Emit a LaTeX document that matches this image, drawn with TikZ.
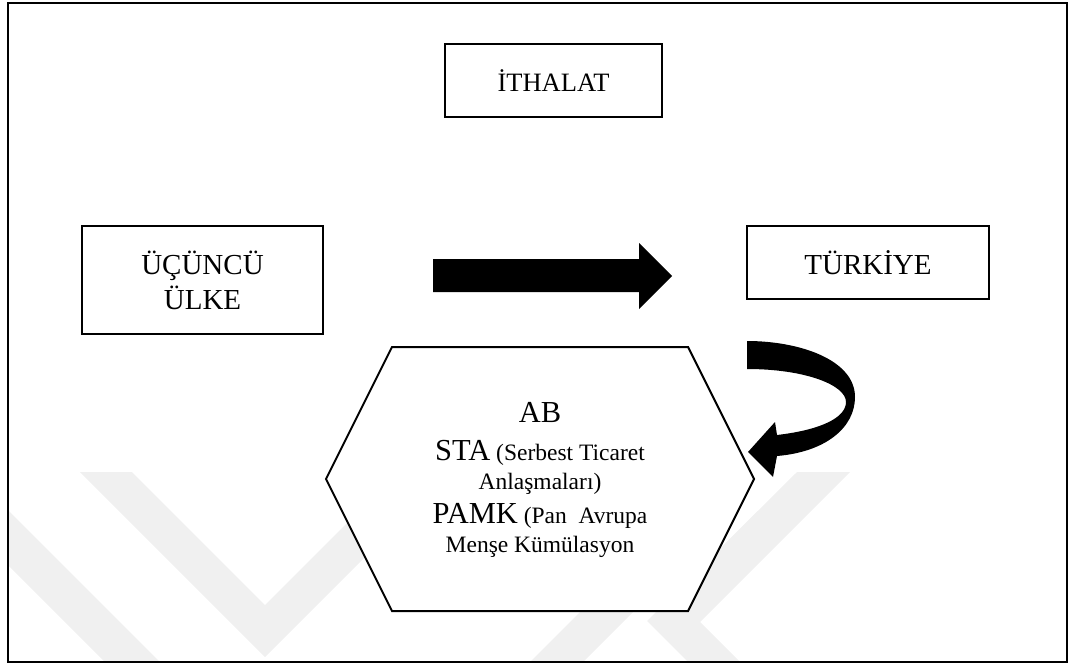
\documentclass[tikz,border=0pt]{standalone}
\usepackage{fontspec}
\setmainfont{Liberation Serif}
\usetikzlibrary{positioning}

\begin{document}
\begin{tikzpicture}[x=1pt,y=-1pt,
    box/.style={draw,line width=2.4pt,inner sep=0pt,align=center},
    boxfont/.style={font=\fontsize{29}{35}\selectfont},
    mark gray/.style={fill=black!6,draw=none}]
\useasboundingbox (0,0) rectangle (1071,666);

% faint watermark stripes
\fill[mark gray] (80,472) -- (132,472) -- (265,605) -- (370,500) -- (422,500) -- (265,657) -- cycle;
\fill[mark gray] (8,510) -- (8,565) -- (105,662) -- (160,662) -- cycle;
\fill[mark gray] (797,472) -- (850,472) -- (700,622) -- (740,662) -- (688,662) -- (647,621) -- cycle;
\fill[mark gray] (530,662) -- (583,662) -- (660,585) -- (607,585) -- cycle;

% frame
\draw[line width=2pt] (8,3) rectangle (1067,662);

% boxes
\node[box,minimum width=217,minimum height=73,font=\fontsize{26.5}{30}\selectfont] (ithalat) at (553.5,80.5) {İTHALAT};
\node[box,boxfont,minimum width=241,minimum height=108] (ucuncu) at (202.5,280) {ÜÇÜNCÜ\\ÜLKE};
\node[box,boxfont,minimum width=242,minimum height=73] (turkiye) at (868,262.5) {TÜRKİYE};

% straight block arrow
\fill (433,259) -- (639,259) -- (639,243) -- (672,276) -- (639,309) -- (639,292) -- (433,292) -- cycle;

% hexagon with the agreements
\coordinate (hexW) at (326,479);
\coordinate (hexE) at (754,479);
\draw[line width=2pt,fill=white] (392,347) -- (688,347) -- (hexE) -- (688,611) -- (392,611) -- (hexW) -- cycle;
\node[align=center,font=\fontsize{23.5}{29}\selectfont,inner sep=0pt] (anlasma) at (540,480)
  {{\fontsize{30.5}{30}\selectfont AB}\\[9pt]
   {\fontsize{30.5}{30}\selectfont STA} (Serbest Ticaret\\
   Anlaşmaları)\\[5pt]
   {\fontsize{30.5}{30}\selectfont PAMK} (Pan\ \ Avrupa\\
   Menşe Kümülasyon};

% curved arrow back to the hexagon
\fill (747,341) .. controls (800,341) and (855,360) .. (855,397)
  .. controls (855,428) and (825,452) .. (777,456) -- (773,477) -- (748,452) -- (775,422) -- (777,435)
  .. controls (820,430) and (846,418) .. (846,402)
  .. controls (846,385) and (805,369) .. (747,369) -- cycle;
\end{tikzpicture}
\end{document}
